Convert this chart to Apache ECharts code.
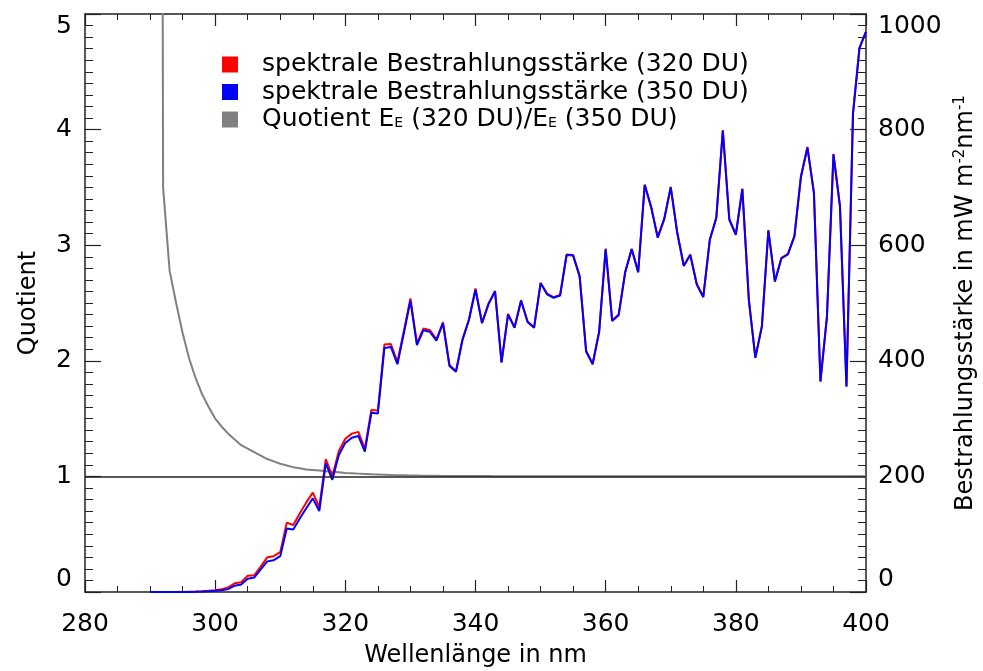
<!DOCTYPE html>
<html>
<head>
<meta charset="utf-8">
<title>Bestrahlungsstärke 320 DU / 350 DU</title>
<script src="https://cdn.jsdelivr.net/npm/echarts@6.0.0/dist/echarts.min.js"></script>
<style>
    html, body { margin: 0; padding: 0; background: #fff; }
    #chart { width: 983px; height: 671px; }
</style>
</head>
<body>
<div id="chart"></div>
<script>
// Wellenlängen 290 .. 400 nm, 1 nm Schritt
const wavelengths = Array.from({length: 111}, (v, i) => 290 + i);

// spektrale Bestrahlungsstärke bei 320 DU (mW m^-2 nm^-1)
const irr320 = [
    0, 0, 0, 0, 0, 0, 0.5, 0.8, 1.3, 2,
    3, 5, 8, 15, 17, 28, 29, 44, 60, 62,
    69, 120, 116, 136, 155, 172, 147, 230, 200, 244,
    265, 274, 277, 248, 315, 314, 428, 429, 398, 452,
    508, 430, 456, 453, 437, 467, 393, 382, 437, 472,
    525, 466, 499, 521, 398, 481, 458, 505, 468, 458,
    535, 516, 510, 514, 584, 583, 547, 417, 395, 451,
    594, 470, 480, 554, 594, 554, 705, 666, 614, 646,
    701, 622, 565, 584, 533, 511, 610, 648, 799, 645,
    619, 698, 506, 406, 460, 626, 538, 578, 585, 616,
    719, 770, 691, 365, 477, 758, 668, 356, 828, 942,
    970
];

// spektrale Bestrahlungsstärke bei 350 DU
const irr350 = [
    0, 0, 0, 0, 0, 0, 0.2, 0.4, 0.7, 1.2,
    2, 3, 5, 11, 13, 23, 25, 39, 53, 55,
    62, 110, 108, 127, 145, 162, 140, 223, 194, 237,
    258, 267, 270, 243, 310, 309, 422, 424, 394, 448,
    504, 427, 453, 450, 435, 465, 391, 381, 436, 471,
    523, 465, 498, 520, 397, 480, 457, 504, 467, 457,
    534, 515, 509, 513, 583, 582, 546, 416, 394, 450,
    593, 469, 479, 553, 593, 553, 704, 665, 613, 645,
    700, 621, 564, 583, 532, 510, 609, 647, 798, 644,
    618, 697, 505, 405, 459, 625, 537, 577, 584, 615,
    718, 769, 690, 364, 476, 757, 667, 355, 827, 941,
    969
];

// Quotient E(320 DU) / E(350 DU)
const quotient = [
    null, 30, 3.5, 2.78, 2.5, 2.24, 2.02, 1.85, 1.71, 1.6,
    1.5, 1.43, 1.37, 1.32, 1.27, 1.24, 1.21, 1.18, 1.15, 1.13,
    1.11, 1.095, 1.08, 1.07, 1.06, 1.055, 1.05, 1.045, 1.04, 1.035,
    1.03, 1.027, 1.024, 1.021, 1.018, 1.016, 1.014, 1.012, 1.01, 1.009,
    1.008, 1.007, 1.006, 1.005, 1.005, 1.004, 1.004, 1.004, 1.003, 1.003,
    1.003, 1.003, 1.003, 1.002, 1.002, 1.002, 1.002, 1.002, 1.002, 1.002,
    1.002, 1.002, 1.002, 1.002, 1.002, 1.002, 1.002, 1.002, 1.002, 1.002,
    1.002, 1.002, 1.002, 1.002, 1.002, 1.001, 1.001, 1.001, 1.001, 1.001,
    1.001, 1.001, 1.001, 1.001, 1.001, 1.001, 1.001, 1.001, 1.001, 1.001,
    1.001, 1.001, 1.001, 1.001, 1.001, 1.001, 1.001, 1.001, 1.001, 1.001,
    1.001, 1.001, 1.001, 1.001, 1.001, 1.001, 1.001, 1.001, 1.001, 1.001,
    1.001
];

const xTicks = [280, 300, 320, 340, 360, 380, 400];
const quotTicks = [0, 1, 2, 3, 4, 5];
const irrTicks = [0, 200, 400, 600, 800, 1000];

const legendNames = {
    e320: 'spektrale Bestrahlungsstärke (320 DU)',
    e350: 'spektrale Bestrahlungsstärke (350 DU)',
    quot: 'Quotient E{sub|E} (320 DU)/E{sub|E} (350 DU)'
};

const FONT = 'DejaVu Sans';
const AXIS_COLOR = '#222';

function pairs(values) {
    return wavelengths.map((w, i) => [w, values[i]]);
}

function axisStyle(majorLen, minorLen, minorSplit) {
    return {
        axisLine: {show: true, onZero: false, lineStyle: {color: AXIS_COLOR, width: 1.5}},
        axisTick: {show: true, inside: true, length: majorLen, lineStyle: {color: AXIS_COLOR, width: 1.2}},
        minorTick: {show: true, splitNumber: minorSplit, length: minorLen, lineStyle: {color: AXIS_COLOR, width: 1}},
        splitLine: {show: false}
    };
}

let chart = echarts.init(document.getElementById('chart'));

let option = {
    animation: false,
    backgroundColor: '#fff',
    textStyle: {fontFamily: FONT},
    // feste Plotfläche, keine automatische Verkleinerung
    grid: {left: 85, right: 117, top: 14, bottom: 79, containLabel: false, outerBoundsMode: 'none'},
    legend: {
        orient: 'vertical',
        left: 217,
        top: 47,
        itemWidth: 16,
        itemHeight: 16,
        itemGap: 2.5,
        icon: 'rect',
        data: ['e320', 'e350', 'quot'],
        formatter: function (name) {
            return legendNames[name];
        },
        textStyle: {
            fontFamily: FONT,
            fontSize: 25,
            lineHeight: 22,
            color: '#000',
            padding: [0, 0, 0, 19],
            rich: {
                sub: {fontFamily: FONT, fontSize: 14, lineHeight: 12, verticalAlign: 'bottom', color: '#000'}
            }
        }
    },
    xAxis: [
        Object.assign({
            type: 'value',
            min: 280,
            max: 400,
            interval: 20,
            position: 'bottom',
            name: 'Wellenlänge in nm',
            nameLocation: 'middle',
            nameGap: 52,
            nameTextStyle: {fontFamily: FONT, fontSize: 24, color: '#000'},
            axisLabel: {
                fontFamily: FONT, fontSize: 25, color: '#000', margin: 20,
                formatter: v => xTicks.includes(v) ? String(v) : ''
            }
        }, axisStyle(12, 6, 4)),
        Object.assign({
            type: 'value',
            min: 280,
            max: 400,
            interval: 20,
            position: 'top',
            axisLabel: {show: false}
        }, axisStyle(12, 6, 4))
    ],
    yAxis: [
        Object.assign({
            type: 'value',
            min: 0,
            max: 5,
            interval: 1,
            position: 'left',
            name: 'Quotient',
            nameLocation: 'middle',
            nameRotate: 90,
            nameGap: 44,
            nameTextStyle: {fontFamily: FONT, fontSize: 24, color: '#000'},
            axisLabel: {
                fontFamily: FONT, fontSize: 25, color: '#000', margin: 13,
                verticalAlignMinLabel: 'bottom',
                verticalAlignMaxLabel: 'top',
                formatter: v => quotTicks.includes(v) ? String(v) : ''
            }
        }, axisStyle(16, 8, 10)),
        Object.assign({
            type: 'value',
            min: 0,
            max: 1000,
            interval: 200,
            position: 'right',
            name: 'Bestrahlungsstärke in mW m{sup|-2}nm{sup|-1}',
            nameLocation: 'middle',
            nameRotate: 90,
            nameGap: 86,
            nameTextStyle: {
                fontFamily: FONT, fontSize: 24, color: '#000',
                rich: {
                    sup: {fontFamily: FONT, fontSize: 15, verticalAlign: 'top', lineHeight: 26, color: '#000'}
                }
            },
            axisLabel: {
                fontFamily: FONT, fontSize: 25, color: '#000', margin: 12,
                verticalAlignMinLabel: 'bottom',
                verticalAlignMaxLabel: 'top',
                formatter: v => irrTicks.includes(v) ? String(v) : ''
            }
        }, axisStyle(16, 8, 10))
    ],
    series: [
        {
            name: 'quot',
            type: 'line',
            xAxisIndex: 0,
            yAxisIndex: 0,
            data: pairs(quotient),
            symbol: 'none',
            connectNulls: false,
            clip: true,
            color: '#808080',
            lineStyle: {color: '#808080', width: 2},
            markLine: {
                silent: true,
                symbol: 'none',
                label: {show: false},
                lineStyle: {color: '#222', width: 1.5, type: 'solid'},
                data: [{yAxis: 1}]
            }
        },
        {
            name: 'e320',
            type: 'line',
            xAxisIndex: 0,
            yAxisIndex: 1,
            data: pairs(irr320),
            symbol: 'none',
            color: '#ff0000',
            lineStyle: {color: '#ff0000', width: 2}
        },
        {
            name: 'e350',
            type: 'line',
            xAxisIndex: 0,
            yAxisIndex: 1,
            data: pairs(irr350),
            symbol: 'none',
            color: '#0000ff',
            lineStyle: {color: '#0000ff', width: 2}
        }
    ]
};

chart.setOption(option);
</script>
</body>
</html>
